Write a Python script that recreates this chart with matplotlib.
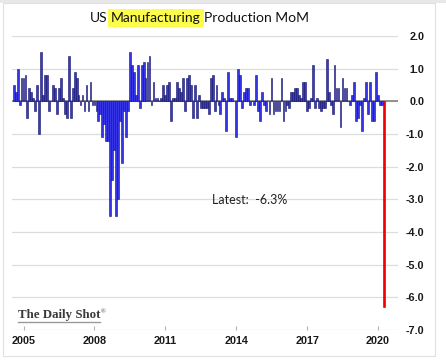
import matplotlib
matplotlib.use("Agg")
import matplotlib.pyplot as plt
from matplotlib.lines import Line2D
from matplotlib.patches import Rectangle
import numpy as np
import pandas as pd

# monthly % change, US manufacturing production
mom = [
    0.5, 0.3, 1.0, -0.1, 0.7, 0.7, 0.8, -0.5, 0.4, 0.3, 0.1, -0.3,
    0.5, -1.0, 1.5, 0.2, 0.8, 0.8, -0.3, 0.0, 0.5, 0.4, -0.4, 0.4,
    0.7, 0.1, -0.4, -0.5, 1.4, -0.5, 0.4, 0.9, 0.7, 0.2, -0.1, 0.2,
    -0.3, 0.5, -0.3, 0.6, -0.1, -0.1, -0.3, -0.6, -0.4, -1.1, -0.7, -1.2,
    -1.2, -3.5, -2.4, -1.5, -3.5, -3.0, -0.6, -1.9, -0.3, -1.1, -0.3, 1.5,
    1.1, 0.9, 0.2, 1.1, -0.2, 1.1, 1.2, 0.7, 1.2, 1.4, -0.1, 0.6,
    0.1, 0.1, 0.0, 0.1, 0.5, 0.2, 0.5, 0.6, -0.6, 0.1, 0.1, 0.6,
    0.4, 0.3, 0.7, -0.3, 0.7, 0.8, 0.5, -0.5, 0.5, -0.5, 0.2, -0.2,
    -0.2, -0.2, -0.2, -0.4, 0.7, 0.8, -0.3, 0.5, -0.1, -0.4, 0.3, 0.1,
    -0.9, 0.9, 0.1, 0.1, 0.0, -1.1, 1.0, 0.8, -0.2, 0.3, 0.4, 0.4,
    -0.1, 0.0, -0.1, 0.8, -0.3, -0.6, 0.3, -0.1, -0.3, 0.0, -0.4, 0.7,
    -0.4, -0.3, -0.3, -0.3, 0.7, -0.6, -0.3, -0.1, -0.2, 0.3, 0.3, 0.4,
    0.4, 0.2, 0.1, 0.6, 0.6, -0.3, -0.2, 0.1, 1.1, -0.2, 0.1, -0.2,
    -0.3, -0.2, -0.2, 1.3, 0.3, -0.1, -0.4, 1.1, 0.4, 0.4, -0.8, 0.7,
    0.4, 0.4, 0.0, -0.1, 0.2, 0.6, -0.6, -0.5, -0.1, -0.9, 0.1, 0.6,
    -0.4, 0.6, -0.6, -0.6, 0.9, 0.2, -0.1, -0.1, -6.3,
]
# month-end dates, last print is March 2020
months = pd.date_range(end="2020-03-31", periods=len(mom), freq="ME")
tick_years = [2005, 2008, 2011, 2014, 2017, 2020]
y_ticks = [2.0, 1.0, 0.0, -1.0, -2.0, -3.0, -4.0, -5.0, -6.0, -7.0]
latest = mom[-1]

W, H = 446, 362
fig = plt.figure(figsize=(W / 100, H / 100), dpi=100)
fig.patch.set_facecolor("white")
# light frame around the panel
fig.add_artist(Rectangle((0, 1 - 3 / H), 1, 3 / H, transform=fig.transFigure,
                         facecolor="#e8e8e8", edgecolor="none"))
fig.add_artist(Rectangle((3 / W, 6 / H), 432 / W, 353 / H, transform=fig.transFigure,
                         facecolor="none", edgecolor="#e0e0e0", lw=0.8))

ax = fig.add_axes([12 / W, 1 - 330 / H, 386 / W, 294 / H])

colors = ["#3535e6"] * (len(mom) - 1) + ["#f00000"]
edges = ["#14145a"] * (len(mom) - 1) + ["#b00000"]
ax.bar(months, mom, width=28, color=colors, edgecolor=edges, linewidth=0.4, zorder=3)
ax.axhline(0, color="#8a8a8a", lw=1.3, zorder=2)

ax.set_ylim(-7, 2)
ax.set_xlim(pd.Timestamp("2004-07-05"), pd.Timestamp("2020-11-05"))
ax.set_yticks(y_ticks)
ax.set_yticklabels([f"{v:.1f}" for v in y_ticks])
ax.yaxis.tick_right()
ax.grid(True, axis="y", color="#dcdcdc", lw=0.9, zorder=0)
for s in ax.spines.values():
    s.set_visible(False)

ax.set_xticks([pd.Timestamp(f"{y}-01-01") for y in tick_years])
ax.set_xticklabels([str(y) for y in tick_years])
ax.tick_params(axis="x", direction="in", length=3, color="#b0b0b0", pad=4)
ax.tick_params(axis="y", length=0, pad=19)
for lab in ax.get_xticklabels() + ax.get_yticklabels():
    lab.set_fontfamily("Liberation Sans")
    lab.set_fontweight("bold")
    lab.set_fontsize(7.8)
    lab.set_color("#1a1a1a")
for lab in ax.get_yticklabels():
    lab.set_horizontalalignment("right")

ax.text(0.518, 0.442, f"Latest:  {latest:.1f}%", transform=ax.transAxes,
        fontsize=9, family="Lato", color="#222222", va="center")

# title with highlighted word
t1 = fig.text(90 / W, 1 - 24 / H, "US", fontsize=10, family="Lato", color="#111111",
              va="bottom")
t2 = ax.annotate("Manufacturing", xy=(1, 0), xycoords=t1, xytext=(2.5, 0),
                 textcoords="offset points", fontsize=10, family="Lato",
                 color="#111111", va="bottom",
                 bbox=dict(boxstyle="square,pad=0.2", fc="#fcfc4c", ec="none"))
ax.annotate("Production MoM", xy=(1, 0), xycoords=t2, xytext=(2.5, 0),
            textcoords="offset points", fontsize=10, family="Lato",
            color="#111111", va="bottom")

# watermark
wm = fig.text(18 / W, 1 - 315 / H, "The Daily Shot", fontsize=9.3, family="Liberation Serif",
              color="#3a3a3a", va="center", weight="bold")
ax.annotate("®", xy=(1, 0.75), xycoords=wm, xytext=(0.5, 0), textcoords="offset points",
            fontsize=4.5, family="Liberation Serif", color="#3a3a3a", va="center")
fig.add_artist(Line2D([18 / W, 100 / W], [1 - 322 / H, 1 - 322 / H],
                      transform=fig.transFigure, color="#9a9a9a", lw=1.0))

fig.savefig("out.png", dpi=100)
